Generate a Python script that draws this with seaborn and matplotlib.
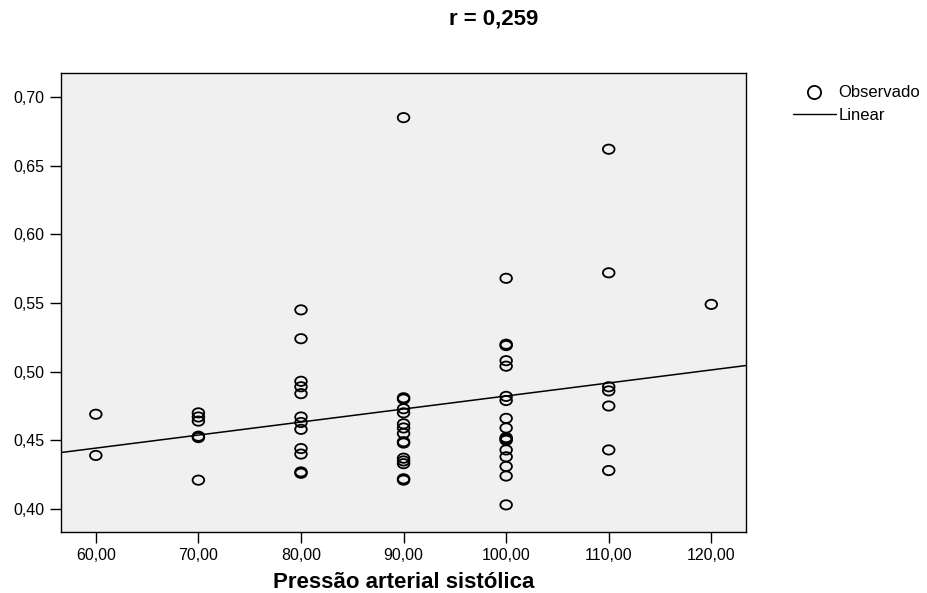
import numpy as np
import pandas as pd
import matplotlib
matplotlib.use("Agg")
import matplotlib.pyplot as plt
from matplotlib.path import Path
from matplotlib.lines import Line2D
from matplotlib.ticker import FuncFormatter
import seaborn as sns

# values
PAS_60 = [0.469, 0.439]
PAS_70 = [0.470, 0.467, 0.464, 0.453, 0.452, 0.421]
PAS_80 = [0.545, 0.524, 0.493, 0.489, 0.484, 0.467, 0.463, 0.458,
          0.444, 0.440, 0.427, 0.426]
PAS_90 = [0.685, 0.481, 0.480, 0.473, 0.470, 0.462, 0.459, 0.455,
          0.449, 0.448, 0.437, 0.435, 0.433, 0.422, 0.421]
PAS_100 = [0.568, 0.520, 0.519, 0.508, 0.504, 0.482, 0.479, 0.466,
           0.459, 0.452, 0.451, 0.450, 0.443, 0.438, 0.431, 0.424, 0.403]
PAS_110 = [0.662, 0.572, 0.489, 0.486, 0.475, 0.443, 0.428]
PAS_120 = [0.549]

GROUPS = [60, 70, 80, 90, 100, 110, 120]
X_TICKS = [60, 70, 80, 90, 100, 110, 120]
Y_TICKS = [0.40, 0.45, 0.50, 0.55, 0.60, 0.65, 0.70]
TITLE = "r = 0,259"
X_LABEL = "Pressão arterial sistólica"

values = [PAS_60, PAS_70, PAS_80, PAS_90, PAS_100, PAS_110, PAS_120]
df = pd.DataFrame(
    [(g, v) for g, vals in zip(GROUPS, values) for v in vals],
    columns=["pas", "valor"],
)

sns.set_style("white")
plt.rcParams["font.family"] = ["Liberation Sans", "DejaVu Sans"]
plt.rcParams["text.color"] = "black"
plt.rcParams["axes.labelcolor"] = "black"

fig = plt.figure(figsize=(9.27, 5.93), dpi=100)
ax = fig.add_axes([0.0663, 0.1037, 0.7381, 0.7732])
ax.set_facecolor("#f0f0f0")

# SPSS draws slightly flattened circles
circ = Path.unit_circle()
ellipse = Path(circ.vertices * np.array([1.0, 0.8]), circ.codes)

xlim = (56.65, 123.35)
ylim = (0.3836, 0.7175)
ax.set_xlim(xlim)
ax.set_ylim(ylim)

sns.scatterplot(data=df, x="pas", y="valor", ax=ax, marker=ellipse, s=70,
                facecolors="none", edgecolor="black", linewidth=1.3)
sns.regplot(data=df, x="pas", y="valor", ax=ax, scatter=False, ci=None,
            truncate=False, line_kws=dict(color="black", lw=1.1))
ax.set_xlim(xlim)
ax.set_ylim(ylim)

ax.set_xticks(X_TICKS)
ax.set_yticks(Y_TICKS)
ax.xaxis.set_major_formatter(FuncFormatter(lambda v, p: f"{v:.2f}".replace(".", ",")))
ax.yaxis.set_major_formatter(FuncFormatter(lambda v, p: f"{v:.2f}".replace(".", ",")))
ax.tick_params(direction="out", length=8, width=1, color="black",
               labelsize=11.5, labelcolor="black", pad=4,
               bottom=True, left=True)
for sp in ax.spines.values():
    sp.set_color("black")
    sp.set_linewidth(1)

ax.set_xlabel(X_LABEL, fontsize=16, fontweight="bold", labelpad=6)
ax.set_ylabel("")
fig.text(0.533, 0.968, TITLE, ha="center", va="center",
         fontsize=16, fontweight="bold")

handles = [
    Line2D([], [], linestyle="none", marker="o", markersize=9.5,
           markerfacecolor="none", markeredgecolor="black", markeredgewidth=1.3),
    Line2D([], [], color="black", lw=1),
]
fig.legend(handles, ["Observado", "Linear"], loc="upper left",
           bbox_to_anchor=(0.855, 0.856), frameon=False, fontsize=12,
           handlelength=2.6, handletextpad=0.15, labelspacing=0.45,
           borderaxespad=0, borderpad=0)

fig.savefig("out.png", dpi=100)
